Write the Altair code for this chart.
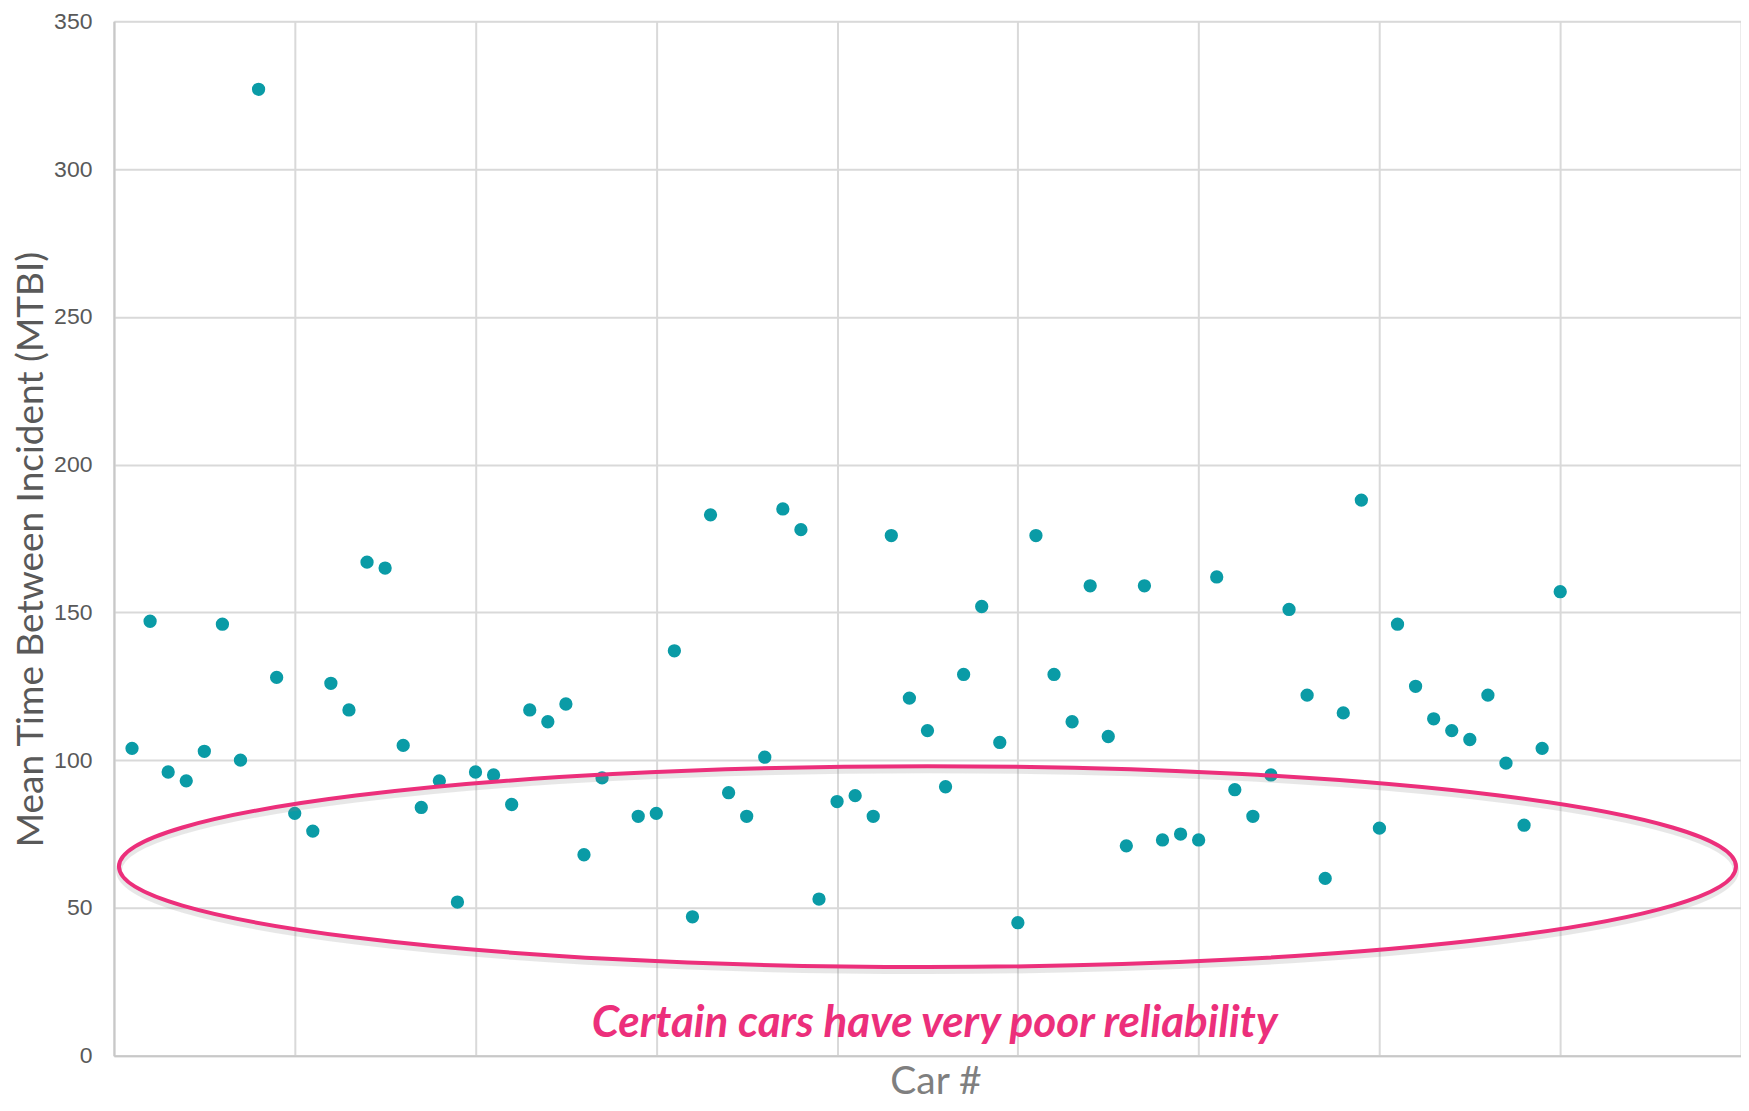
import altair as alt
import pandas as pd

# ---- data ----
car = [1, 2, 3, 4, 5, 6, 7, 8, 9, 10,
       11, 12, 13, 14, 15, 16, 17, 18, 19, 20,
       21, 22, 23, 24, 25, 26, 27, 29, 30,
       31, 32, 33, 34, 35, 36, 37, 38, 39, 40,
       41, 42, 43, 44, 45, 46, 47, 48, 49, 50,
       51, 52, 53, 54, 55, 56, 57, 58, 59, 60,
       61, 62, 63, 64, 65, 66, 67, 68, 69, 70,
       71, 72, 73, 74, 75, 76, 77, 78, 79, 80]
mtbi = [104, 147, 96, 93, 103, 146, 100, 327, 128, 82,
        76, 126, 117, 167, 165, 105, 84, 93, 52, 96,
        95, 85, 117, 113, 119, 68, 94, 81, 82,
        137, 47, 183, 89, 81, 101, 185, 178, 53, 86,
        88, 81, 176, 121, 110, 91, 129, 152, 106, 45,
        176, 129, 113, 159, 108, 71, 159, 73, 75, 73,
        162, 90, 81, 95, 151, 122, 60, 116, 188, 77,
        146, 125, 114, 110, 107, 122, 99, 78, 104, 157]

x_ticks = [0, 10, 20, 30, 40, 50, 60, 70, 80, 90]
y_ticks = [0, 50, 100, 150, 200, 250, 300, 350]

annotation_text = "Certain cars have very poor reliability"
ellipse_center = {"car": [45.0], "mtbi": [64.0]}
annotation_pos = {"car": [45.4], "mtbi": [6.2]}

df = pd.DataFrame({"car": car, "mtbi": mtbi})
df_ell = pd.DataFrame(ellipse_center)
df_txt = pd.DataFrame(annotation_pos)

W, H = 1628, 1035
PINK = "#EC2F7B"
TEAL = "#0A9BA6"

x_enc = alt.X(
    "car:Q",
    scale=alt.Scale(domain=[0, 90], nice=False, zero=False),
    axis=alt.Axis(
        values=x_ticks, labels=False, ticks=False, grid=True,
        gridColor="#d9d9d9", gridWidth=2,
        domain=True, domainColor="#c8c8c8", domainWidth=2,
        title="Car #", titleFont="Lato", titleFontSize=39,
        titleFontWeight="normal", titleColor="#7f7f7f",
        titleX=822, titleY=38, titleBaseline="alphabetic", titleAlign="center",
    ),
)
y_enc = alt.Y(
    "mtbi:Q",
    scale=alt.Scale(domain=[0, 350], nice=False),
    axis=alt.Axis(
        values=y_ticks, ticks=False, grid=True,
        gridColor="#d9d9d9", gridWidth=2,
        domain=True, domainColor="#c8c8c8", domainWidth=2,
        labelFont="Liberation Sans", labelFontSize=23, labelColor="#595959",
        labelPadding=22,
        title="Mean Time Between Incident (MTBI)", titleFont="Lato",
        titleFontSize=37, titleFontWeight="normal", titleColor="#595959",
        titleX=-82, titleY=528, titleBaseline="middle", titleAlign="center",
    ),
)

ELLIPSE_PATH = ("M-1,0C-1,-0.0686,-0.5523,-0.1242,0,-0.1242"
                "C0.5523,-0.1242,1,-0.0686,1,0"
                "C1,0.0686,0.5523,0.1242,0,0.1242"
                "C-0.5523,0.1242,-1,0.0686,-1,0Z")
ELL_SIZE = 1618 * 1618

points = alt.Chart(df).mark_circle(size=177, opacity=1, color=TEAL).encode(
    x=x_enc, y=y_enc
)

shadow = alt.Chart(df_ell).mark_point(
    shape=ELLIPSE_PATH, size=ELL_SIZE, filled=False, stroke="#8a8a8a",
    strokeWidth=6, strokeOpacity=0.28, yOffset=4,
).encode(x=x_enc, y=y_enc)

ellipse = alt.Chart(df_ell).mark_point(
    shape=ELLIPSE_PATH, size=ELL_SIZE, filled=False, stroke=PINK,
    strokeWidth=4, opacity=1,
).encode(x=x_enc, y=y_enc)

label = alt.Chart(df_txt).mark_text(
    text=annotation_text, font="Lato", fontSize=44, fontStyle="italic",
    fontWeight="bold", color=PINK, align="center", baseline="alphabetic",
).encode(x=x_enc, y=y_enc)

chart = alt.layer(points, shadow, ellipse, label).properties(
    width=W, height=H,
    padding={"left": 106, "top": 13, "right": 0, "bottom": 45},
    autosize=alt.AutoSizeParams(type="none"),
).configure_view(stroke=None).configure(background="white")

chart.save("out.html", embed_options={"renderer": "svg", "actions": False})
